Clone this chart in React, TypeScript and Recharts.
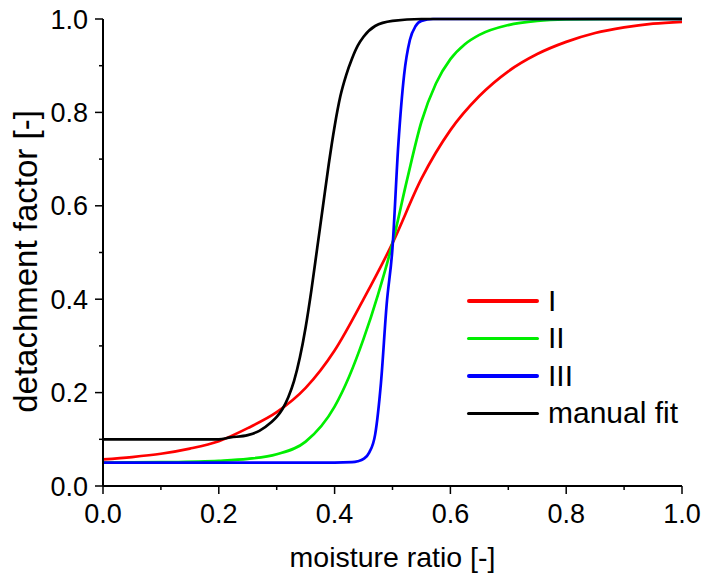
import { LineChart, Line, XAxis, YAxis, Label } from "recharts"

// tick positions (0.1 steps, labels only on the 0.2 steps)
const ticks = [0, 0.1, 0.2, 0.3, 0.4, 0.5, 0.6, 0.7, 0.8, 0.9, 1.0]
const majorLabels = ["0.0", "0.2", "0.4", "0.6", "0.8", "1.0"]

// series I
const xI = [0, 0.05, 0.1, 0.15, 0.2, 0.25, 0.3, 0.35, 0.4, 0.45, 0.5, 0.55, 0.6, 0.65, 0.7, 0.75, 0.8, 0.85, 0.9, 0.95, 1]
const yI = [0.057, 0.062, 0.069, 0.08, 0.096, 0.124, 0.158, 0.21, 0.29, 0.4, 0.52, 0.658, 0.762, 0.835, 0.888, 0.925, 0.951, 0.97, 0.982, 0.99, 0.994]

// series II
const xII = [0, 0.1, 0.2, 0.25, 0.3, 0.35, 0.4, 0.425, 0.45, 0.475, 0.5, 0.525, 0.55, 0.575, 0.6, 0.625, 0.65, 0.7, 0.75, 0.8, 0.9, 1]
const yII = [0.05, 0.051, 0.054, 0.058, 0.068, 0.095, 0.17, 0.234, 0.315, 0.41, 0.52, 0.655, 0.78, 0.862, 0.914, 0.946, 0.966, 0.987, 0.996, 0.999, 1, 1]

// series III
const xIII = [0, 0.1, 0.2, 0.3, 0.4, 0.43, 0.44, 0.45, 0.46, 0.47, 0.48, 0.49, 0.5, 0.51, 0.52, 0.53, 0.54, 0.55, 0.57, 0.6, 0.8, 1]
const yIII = [0.05, 0.05, 0.05, 0.05, 0.05, 0.051, 0.053, 0.058, 0.072, 0.11, 0.22, 0.39, 0.51, 0.73, 0.88, 0.955, 0.985, 0.996, 1, 1, 1, 1]

// manual fit
const xM = [0, 0.1, 0.2, 0.22, 0.25, 0.27, 0.29, 0.3, 0.31, 0.32, 0.33, 0.34, 0.35, 0.36, 0.37, 0.38, 0.39, 0.4, 0.41, 0.42, 0.43, 0.44, 0.45, 0.47, 0.5, 0.55, 0.7, 1]
const yM = [0.1, 0.1, 0.1, 0.104, 0.109, 0.118, 0.136, 0.148, 0.165, 0.19, 0.225, 0.275, 0.34, 0.42, 0.51, 0.6, 0.69, 0.77, 0.835, 0.88, 0.915, 0.943, 0.962, 0.985, 0.996, 1, 1, 1]

const names = ["I", "II", "III", "manual fit"]
const colors = ["#ff0000", "#00ee00", "#0000ff", "#000000"]

const zip = (xs: number[], ys: number[]) => xs.map((x, i) => ({ x, y: ys[i] }))
const series = [zip(xI, yI), zip(xII, yII), zip(xIII, yIII), zip(xM, yM)]

const font = "'Liberation Sans', Arial, sans-serif"

const XTick = (props: any) => {
  const { x, y, payload } = props
  const label = Number(payload.value).toFixed(1)
  const major = majorLabels.includes(label)
  return (
    <g>
      <line x1={x} y1={y} x2={x} y2={y + (major ? 8 : 4)} stroke="#000" strokeWidth={1.5} />
      {major && (
        <text x={x} y={y + 37} textAnchor="middle" fontSize={27} fontFamily={font} fill="#000">
          {label}
        </text>
      )}
    </g>
  )
}

const YTick = (props: any) => {
  const { x, y, payload } = props
  const label = Number(payload.value).toFixed(1)
  const major = majorLabels.includes(label)
  return (
    <g>
      <line x1={x} y1={y} x2={x - (major ? 8 : 4)} y2={y} stroke="#000" strokeWidth={1.5} />
      {major && (
        <text x={x - 15} y={y + 9.5} textAnchor="end" fontSize={27} fontFamily={font} fill="#000">
          {label}
        </text>
      )}
    </g>
  )
}

export default function App() {
  return (
    <div style={{ position: "relative", width: 705, height: 580, fontFamily: font }}>
      <style>{"html, body { margin: 0; padding: 0; overflow: hidden; }"}</style>
      <LineChart width={705} height={580} margin={{ top: 19, right: 23, bottom: 0, left: 0 }}>
        <XAxis
          type="number"
          dataKey="x"
          domain={[0, 1]}
          ticks={ticks}
          interval={0}
          tickSize={0}
          tickMargin={0}
          tickLine={false}
          tick={<XTick />}
          height={94}
          axisLine={{ stroke: "#000", strokeWidth: 2 }}
          allowDuplicatedCategory={false}
        >
          <Label
            content={({ viewBox }: any) => (
              <text
                x={viewBox.x + viewBox.width / 2}
                y={viewBox.y + 81}
                textAnchor="middle"
                fontSize={28.5}
                fontFamily={font}
                fill="#000"
              >
                moisture ratio [-]
              </text>
            )}
          />
        </XAxis>
        <YAxis
          type="number"
          dataKey="y"
          domain={[0, 1]}
          ticks={ticks}
          interval={0}
          tickSize={0}
          tickMargin={0}
          tickLine={false}
          tick={<YTick />}
          width={103}
          axisLine={{ stroke: "#000", strokeWidth: 2 }}
        >
          <Label
            content={({ viewBox }: any) => {
              const cx = 36.7
              const cy = viewBox.y + viewBox.height / 2 + 9
              return (
                <text
                  x={cx}
                  y={cy}
                  transform={`rotate(-90, ${cx}, ${cy})`}
                  textAnchor="middle"
                  fontSize={33}
                  fontFamily={font}
                  fill="#000"
                >
                  detachment factor [-]
                </text>
              )
            }}
          />
        </YAxis>
        {series.map((d, i) => (
          <Line
            key={names[i]}
            data={d}
            dataKey="y"
            name={names[i]}
            type="monotone"
            stroke={colors[i]}
            strokeWidth={2.7}
            dot={false}
            activeDot={false}
            isAnimationActive={false}
          />
        ))}
      </LineChart>
      <div style={{ position: "absolute", left: 467, top: 282 }}>
        {names.map((n, i) => (
          <div key={n} style={{ display: "flex", alignItems: "center", height: 37.5 }}>
            <span
              style={{ display: "inline-block", width: 72, height: 3.5, borderRadius: 2, background: colors[i] }}
            />
            <span style={{ marginLeft: 9, fontSize: 30, lineHeight: 1, color: "#000", whiteSpace: "nowrap" }}>
              {n}
            </span>
          </div>
        ))}
      </div>
    </div>
  )
}
